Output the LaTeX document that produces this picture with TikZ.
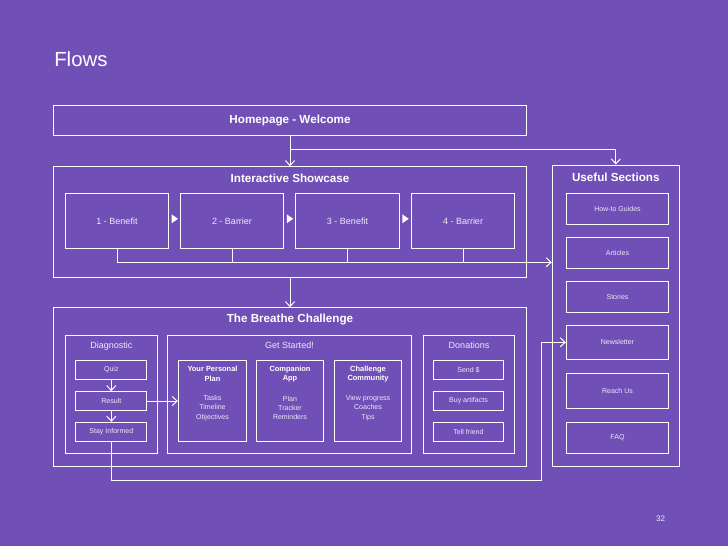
\documentclass[tikz,border=0pt]{standalone}
\usepackage{fontspec}
\setmainfont{Liberation Sans}
\usetikzlibrary{arrows.meta}
\definecolor{viola}{RGB}{112,80,182}
\definecolor{lilla}{RGB}{238,232,250}

\begin{document}
\begin{tikzpicture}[x=0.025cm, y=-0.025cm,
    >={Straight Barb[length=3.5pt,width=6.5pt]},
    linea/.style={draw=white, line width=0.7pt},
    box/.style 2 args={draw=white, line width=0.7pt, inner sep=0pt,
        minimum width=#1*0.025cm, minimum height=#2*0.025cm,
        text=lilla, font=\fontsize{5}{6.6}\selectfont},
    titolo/.style={text=white, font=\bfseries\fontsize{8.3}{10}\selectfont},
    medio/.style={text=lilla, font=\fontsize{6.4}{7.5}\selectfont},
    grassetto/.style={text=white, align=center, font=\bfseries\fontsize{5.3}{7}\selectfont},
    voce/.style={text=lilla, align=center, font=\fontsize{5}{6.6}\selectfont}]

        % 1. Sfondo, titolo della pagina e numero
        \fill[viola] (0,0) rectangle (728,546);
        \node[anchor=base west, inner sep=0pt, text=white, font=\fontsize{14.5}{16}\selectfont] (flows) at (54,66) {Flows};
        \node[text=lilla, font=\fontsize{5.7}{7}\selectfont] (pag) at (660.5,519) {32};

        % 2. Homepage
        \node[box={473.4}{29.7}, titolo] (home) at (290,120.2) {Homepage - Welcome};

        % 3. Interactive Showcase con i quattro passi
        \node[box={473.4}{110.6}] (show) at (290,222) {};
        \node[titolo] (show-t) at (290,178) {Interactive Showcase};
        \node[box={103.4}{55}, medio] (b1) at (117,220.8) {1 - Benefit};
        \node[box={103.4}{55}, medio] (b2) at (232,220.8) {2 - Barrier};
        \node[box={103.4}{55}, medio] (b3) at (347.5,220.8) {3 - Benefit};
        \node[box={103.4}{55}, medio] (b4) at (463,220.8) {4 - Barrier};

        % 4. Triangolini pieni tra un passo e l'altro
        \path (b1) -- (b2) coordinate[pos=.5] (t1);
        \path (b2) -- (b3) coordinate[pos=.5] (t2);
        \path (b3) -- (b4) coordinate[pos=.5] (t3);
        \fill[white] (t1) ++(-3,-6.5) -- ++(6.5,4.5) -- ++(-6.5,4.5) -- cycle;
        \fill[white] (t2) ++(-3,-6.5) -- ++(6.5,4.5) -- ++(-6.5,4.5) -- cycle;
        \fill[white] (t3) ++(-3,-6.5) -- ++(6.5,4.5) -- ++(-6.5,4.5) -- cycle;

        % 5. Useful Sections (colonna a destra)
        \node[box={127}{301}] (useful) at (615.8,315.5) {};
        \node[titolo] (useful-t) at (615.8,177.3) {Useful Sections};
        \node[box={102.4}{31}] (howto) at (617.5,208.8) {How-to Guides};
        \node[box={102.4}{30.6}] (articles) at (617.5,253) {Articles};
        \node[box={102.4}{31}] (stories) at (617.5,296.8) {Stories};
        \node[box={102.4}{34}] (news) at (617.5,342.3) {Newsletter};
        \node[box={102.4}{35.4}] (reach) at (617.5,391) {Reach Us};
        \node[box={102.4}{31}] (faq) at (617.5,437.8) {FAQ};

        % 6. The Breathe Challenge
        \node[box={473.4}{159}] (breathe) at (290,387.2) {};
        \node[titolo] (breathe-t) at (290,319.3) {The Breathe Challenge};

        % 7. Diagnostic
        \node[box={92}{117.6}] (diag) at (111.3,394.5) {};
        \node[medio] (diag-t) at (111.3,345.7) {Diagnostic};
        \node[box={70.7}{18.6}] (quiz) at (111.3,370) {Quiz};
        \node[box={70.7}{18.6}] (result) at (111.3,401) {Result};
        \node[box={70.7}{19}] (stay) at (111.3,431.8) {Stay Informed};

        % 8. Get Started!
        \node[box={244.4}{117.6}] (getst) at (289.5,394.5) {};
        \node[medio] (getst-t) at (289.5,345.7) {Get Started!};
        \node[box={68.4}{81.4}] (ypp) at (212.5,401) {};
        \node[grassetto] (ypp-t) at (212.5,374) {Your Personal\\Plan};
        \node[voce] (ypp-v) at (212.5,408) {Tasks\\Timeline\\Objectives};
        \node[box={67.4}{81.4}] (comp) at (290,401) {};
        \node[grassetto] (comp-t) at (290,374) {Companion\\App};
        \node[voce] (comp-v) at (290,408) {Plan\\Tracker\\Reminders};
        \node[box={67.4}{81.4}] (comm) at (368,401) {};
        \node[grassetto] (comm-t) at (368,374) {Challenge\\Community};
        \node[voce] (comm-v) at (368,408) {View progress\\Coaches\\Tips};

        % 9. Donations
        \node[box={91.4}{117.6}] (don) at (469,394.5) {};
        \node[medio] (don-t) at (469,345.7) {Donations};
        \node[box={70.4}{18.6}] (send) at (468.5,370) {Send \$};
        \node[box={70.4}{18.6}] (buy) at (468.5,401) {Buy artifacts};
        \node[box={70.4}{19}] (tell) at (468.5,431.8) {Tell friend};

        % 10. Collegamenti
        \draw[linea, ->] (home) -- (show);
        \coordinate (hbr) at (290,149.3);
        \draw[linea, ->] (hbr) -| (useful.north);
        \draw[linea, ->] (show) -- (breathe);
        \coordinate (bus) at (117,262.3);
        \draw[linea, ->] (b1.south) -- (bus) -- (bus -| useful.west);
        \draw[linea] (b2.south) -- (b2.south |- bus);
        \draw[linea] (b3.south) -- (b3.south |- bus);
        \draw[linea] (b4.south) -- (b4.south |- bus);
        \draw[linea, ->] (quiz) -- (result);
        \draw[linea, ->] (result) -- (stay);
        \draw[linea, ->] (result) -- (ypp);
        \coordinate (giro) at (541.3,480);
        \draw[linea, ->] (stay.south) |- (giro) |- (news.west);

    \end{tikzpicture}
\end{document}
